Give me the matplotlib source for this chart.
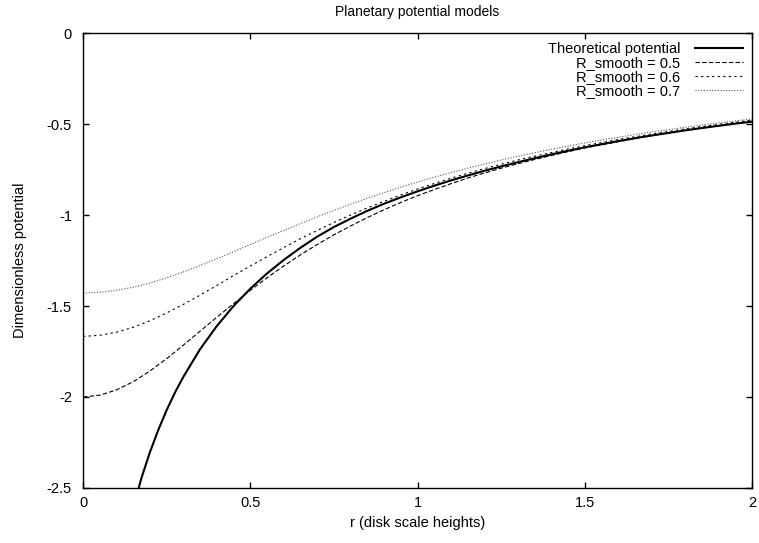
import matplotlib
matplotlib.use('Agg')
import matplotlib.pyplot as plt

plt.rcParams['font.family'] = ['Liberation Sans', 'DejaVu Sans']
plt.rcParams['font.size'] = 10.5

# theoretical potential
r_theory = [0.150, 0.175, 0.200, 0.225, 0.250, 0.275, 0.300, 0.350, 0.400, 0.450,
            0.500, 0.550, 0.600, 0.650, 0.700, 0.750, 0.800, 0.850, 0.900, 0.950,
            1.00, 1.05, 1.10, 1.15, 1.20, 1.25, 1.30, 1.35, 1.40, 1.45,
            1.50, 1.55, 1.60, 1.65, 1.70, 1.75, 1.80, 1.85, 1.90, 1.95, 2.00]
phi_theory = [-2.607, -2.443, -2.303, -2.181, -2.072, -1.975, -1.889, -1.737, -1.610, -1.500,
              -1.405, -1.321, -1.247, -1.180, -1.119, -1.066, -1.020, -0.977, -0.938, -0.903,
              -0.870, -0.839, -0.810, -0.783, -0.757, -0.733, -0.710, -0.688, -0.667, -0.647,
              -0.628, -0.611, -0.594, -0.578, -0.563, -0.549, -0.535, -0.522, -0.510, -0.498, -0.487]

# smoothed models
r_smooth = [0.00, 0.05, 0.10, 0.15, 0.20, 0.25, 0.30, 0.35, 0.40, 0.45,
            0.50, 0.55, 0.60, 0.65, 0.70, 0.75, 0.80, 0.85, 0.90, 0.95,
            1.00, 1.05, 1.10, 1.15, 1.20, 1.25, 1.30, 1.35, 1.40, 1.45,
            1.50, 1.55, 1.60, 1.65, 1.70, 1.75, 1.80, 1.85, 1.90, 1.95, 2.00]
phi_05 = [-2.000, -1.990, -1.961, -1.916, -1.857, -1.789, -1.715, -1.638, -1.562, -1.487,
          -1.414, -1.345, -1.280, -1.219, -1.162, -1.109, -1.060, -1.014, -0.971, -0.931,
          -0.894, -0.860, -0.828, -0.797, -0.769, -0.743, -0.718, -0.695, -0.673, -0.652,
          -0.632, -0.614, -0.597, -0.580, -0.564, -0.549, -0.535, -0.522, -0.509, -0.497, -0.485]
phi_06 = [-1.667, -1.661, -1.644, -1.617, -1.581, -1.538, -1.491, -1.440, -1.387, -1.333,
          -1.280, -1.229, -1.179, -1.130, -1.085, -1.041, -1.000, -0.961, -0.925, -0.890,
          -0.857, -0.827, -0.798, -0.771, -0.745, -0.721, -0.698, -0.677, -0.657, -0.637,
          -0.619, -0.602, -0.585, -0.570, -0.555, -0.541, -0.527, -0.514, -0.502, -0.490, -0.479]
phi_07 = [-1.429, -1.425, -1.414, -1.397, -1.374, -1.345, -1.313, -1.278, -1.240, -1.202,
          -1.162, -1.123, -1.085, -1.047, -1.010, -0.975, -0.941, -0.908, -0.877, -0.847,
          -0.819, -0.792, -0.767, -0.743, -0.720, -0.698, -0.677, -0.658, -0.639, -0.621,
          -0.604, -0.588, -0.573, -0.558, -0.544, -0.531, -0.518, -0.506, -0.494, -0.483, -0.472]

x_ticks = [0, 0.5, 1, 1.5, 2]
x_tick_labels = ['0', '0.5', '1', '1.5', '2']
y_ticks = [0, -0.5, -1, -1.5, -2, -2.5]
y_tick_labels = ['0', '-0.5', '-1', '-1.5', '-2', '-2.5']

fig = plt.figure(figsize=(7.59, 5.43), dpi=100)
ax = fig.add_axes([0.1094, 0.1013, 0.8814, 0.8379])

ax.plot(r_theory, phi_theory, color='black', lw=1.5, label='Theoretical potential')
ax.plot(r_smooth, phi_05, color='black', lw=0.8, dashes=(4, 2), label='R_smooth = 0.5')
ax.plot(r_smooth, phi_06, color='black', lw=0.8, dashes=(2, 3), label='R_smooth = 0.6')
ax.plot(r_smooth, phi_07, color='#555555', lw=0.8, dashes=(1, 1.5), label='R_smooth = 0.7')

ax.set_xlim(0, 2)
ax.set_ylim(-2.5, 0)
ax.set_xticks(x_ticks, x_tick_labels)
ax.set_yticks(y_ticks, y_tick_labels)
ax.tick_params(direction='in', length=4.5, width=1, top=True, right=True)
ax.tick_params(axis='x', pad=6)
ax.tick_params(axis='y', pad=8)
for s in ax.spines.values():
    s.set_linewidth(1)

ax.set_title('Planetary potential models', fontsize=10, pad=12)
ax.set_xlabel('r (disk scale heights)', labelpad=4)
ax.set_ylabel('Dimensionless potential', labelpad=14)

ax.legend(loc='upper right', frameon=False, markerfirst=False, handlelength=3.3,
          labelspacing=0.0, borderaxespad=0.2, handletextpad=1.0)

fig.savefig('out.png', dpi=100)
